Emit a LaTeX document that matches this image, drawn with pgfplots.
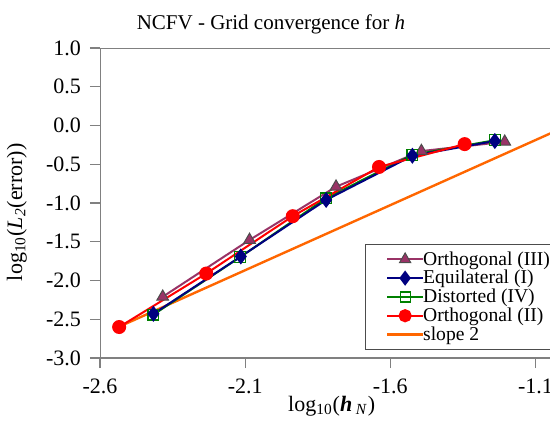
\documentclass[border=0pt]{standalone}
\usepackage{fontspec}
\setmainfont{Liberation Serif}
\usepackage{pgfplots}
\pgfplotsset{compat=1.18}
\definecolor{cPlum}{HTML}{993366}
\definecolor{cNavy}{HTML}{000080}
\definecolor{cGreen}{HTML}{008000}
\definecolor{cRed}{HTML}{FF0000}
\definecolor{cOrange}{HTML}{FF6600}
\definecolor{cFrame}{HTML}{808080}
\pgfplotsset{
    shifted legend/.style={
        legend image code/.code={
            \path[draw=none, fill=none, use as bounding box] (0cm,-3pt) rectangle (0.9cm,3pt);
            \draw[mark repeat=2,mark phase=2,##1] plot coordinates {(0.28cm,0cm) (0.59cm,0cm) (0.9cm,0cm)};
        },
    },
}

\begin{document}
\begin{tikzpicture}
\path[use as bounding box] (0,0) rectangle (275pt,212pt);
\begin{axis}[
    at={(50pt,33pt)}, anchor=south west,
    scale only axis, width=225pt, height=155pt,
    xmin=-2.6, xmax=-1.05, ymin=-3, ymax=1,
    xtick={-2.6,-2.1,-1.6,-1.1},
    ytick={-3,-2.5,...,1},
    axis line style={draw=none},
    tick align=outside, major tick length=5pt,
    tick style={cFrame, line width=0.6pt},
    xtick pos=bottom, ytick pos=left,
    /pgf/number format/assume math mode=true,
    /pgf/number format/.cd, fixed, fixed zerofill, precision=1, /pgfplots/.cd,
    tick label style={font=\fontsize{11}{13}\selectfont},
    yticklabel style={xshift=-1pt},
    xticklabel style={yshift=-2pt},
    title={NCFV - Grid convergence for \textit{h}},
    title style={font=\fontsize{10.5}{12}\selectfont, at={(rel axis cs:0.38,1)}, anchor=base, yshift=3.5pt},
    xlabel={log\textsubscript{10}(\textbf{\textit{h}}\,\textsubscript{\textit{N}})},
    xlabel style={font=\fontsize{11}{13}\selectfont, at={(rel axis cs:0.515,0)}, anchor=north, yshift=-15.5pt},
    ylabel={log\textsubscript{10}(\textit{L}\textsubscript{\textit{2}}(error))},
    ylabel style={font=\fontsize{11}{13}\selectfont, at={(rel axis cs:0,0.47)}, anchor=south, yshift=33pt},
    legend style={at={(rel axis cs:0.589,0.368)}, anchor=north west,
        draw=black!70, line width=0.5pt, inner ysep=2.75pt,
        font=\fontsize{9.8}{10}\selectfont,
        nodes={inner sep=0.2pt, text height=7.4pt, text depth=1.6pt},
        legend cell align=left},
]
\addplot[cOrange, line width=1.2pt, forget plot] coordinates {(-2.534,-2.596) (-1.0,-0.02)};
\addplot[cPlum, line width=1pt, mark=triangle*, mark size=3.4pt, mark options={fill=cPlum, draw=black!70, line width=0.5pt}, forget plot] coordinates {
    (-2.384,-2.21) (-2.085,-1.477) (-1.787,-0.79) (-1.493,-0.33) (-1.206,-0.21)
};
\addplot[cGreen, line width=1pt, mark=square, mark size=2.7pt, mark options={draw=cGreen, line width=0.6pt}, forget plot] coordinates {
    (-2.416,-2.44) (-2.118,-1.70) (-1.822,-0.94) (-1.524,-0.38) (-1.240,-0.19)
};
\addplot[cNavy, line width=1pt, mark=diamond*, mark size=3.2pt, mark options={fill=cNavy, draw=cNavy}, forget plot] coordinates {
    (-2.416,-2.43) (-2.115,-1.69) (-1.821,-0.96) (-1.524,-0.39) (-1.240,-0.20)
};
\addplot[cRed, line width=1pt, mark=*, mark size=3pt, mark options={fill=cRed, draw=cRed}, forget plot] coordinates {
    (-2.534,-2.60) (-2.234,-1.91) (-1.936,-1.17) (-1.639,-0.535) (-1.344,-0.24)
};
\addlegendimage{shifted legend, cPlum, line width=1pt, mark=triangle*, mark size=3.2pt, mark options={fill=cPlum, draw=black!70, line width=0.5pt}}
\addlegendentry{Orthogonal (III)}
\addlegendimage{shifted legend, cNavy, line width=1pt, mark=diamond*, mark size=3pt, mark options={fill=cNavy, draw=cNavy}}
\addlegendentry{Equilateral (I)}
\addlegendimage{shifted legend, cGreen, line width=1pt, mark=square, mark size=2.5pt, mark options={draw=cGreen, line width=0.6pt}}
\addlegendentry{Distorted (IV)}
\addlegendimage{shifted legend, cRed, line width=1pt, mark=*, mark size=2.8pt, mark options={fill=cRed, draw=cRed}}
\addlegendentry{Orthogonal (II)}
\addlegendimage{shifted legend, cOrange, line width=1.2pt}
\addlegendentry{slope 2}
\draw[cFrame, line width=0.7pt] (rel axis cs:1,1) -- (rel axis cs:0,1) -- (rel axis cs:0,0) -- (rel axis cs:1,0);
\end{axis}
\end{tikzpicture}
\end{document}
